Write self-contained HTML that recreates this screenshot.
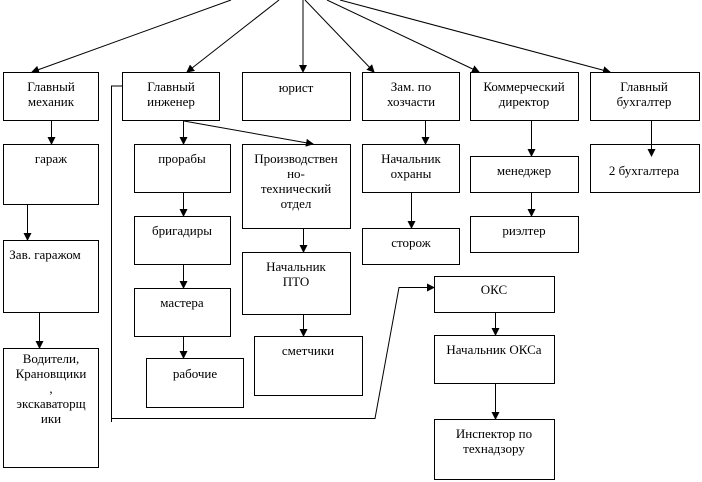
<!DOCTYPE html>
<html><head><meta charset="utf-8"><style>
html,body{margin:0;padding:0;background:#fff;}
svg{display:block;}
text{font-family:"Liberation Serif","DejaVu Serif",serif;font-size:13px;fill:#000;text-anchor:middle;}
rect{fill:#fff;stroke:#000;stroke-width:1;}
line,polyline{stroke:#000;stroke-width:1;fill:none;}
</style></head><body>
<svg width="702" height="482" viewBox="0 0 702 482" xmlns="http://www.w3.org/2000/svg">
<defs><marker id="a" markerWidth="8" markerHeight="8" refX="7" refY="4" orient="auto" markerUnits="userSpaceOnUse"><path d="M0,0 L8,4 L0,8 z" fill="#000"/></marker></defs>
<line x1="231" y1="0" x2="32" y2="72" marker-end="url(#a)"/>
<line x1="279" y1="0" x2="187" y2="72" marker-end="url(#a)"/>
<line x1="303" y1="0" x2="303" y2="72" marker-end="url(#a)"/>
<line x1="305" y1="0" x2="374" y2="72" marker-end="url(#a)"/>
<line x1="327" y1="0" x2="479" y2="72" marker-end="url(#a)"/>
<line x1="340" y1="0" x2="610" y2="72" marker-end="url(#a)"/>
<rect x="3.5" y="72.5" width="95" height="48"/>
<rect x="122.5" y="72.5" width="97" height="48"/>
<rect x="242.5" y="72.5" width="108" height="48"/>
<rect x="362.5" y="72.5" width="97" height="48"/>
<rect x="470.5" y="72.5" width="108" height="48"/>
<rect x="590.5" y="72.5" width="109" height="48"/>
<rect x="3.5" y="144.5" width="95" height="60"/>
<rect x="134.5" y="144.5" width="96" height="48"/>
<rect x="242.5" y="144.5" width="108" height="84"/>
<rect x="362.5" y="144.5" width="97" height="48"/>
<rect x="470.5" y="156.5" width="108" height="36"/>
<rect x="590.5" y="144.5" width="109" height="48"/>
<rect x="3.5" y="240.5" width="95" height="72"/>
<rect x="134.5" y="216.5" width="96" height="48"/>
<rect x="242.5" y="252.5" width="108" height="62"/>
<rect x="362.5" y="228.5" width="97" height="36"/>
<rect x="470.5" y="216.5" width="108" height="36"/>
<rect x="134.5" y="288.5" width="96" height="48"/>
<rect x="146.5" y="358.5" width="97" height="49"/>
<rect x="254.5" y="336.5" width="108" height="59"/>
<rect x="3.5" y="348.5" width="95" height="119"/>
<rect x="434.5" y="276.5" width="120" height="36"/>
<rect x="434.5" y="335.5" width="120" height="48"/>
<rect x="434.5" y="419.5" width="120" height="60"/>
<line x1="51.5" y1="121" x2="51.5" y2="144" marker-end="url(#a)"/>
<line x1="27.5" y1="205" x2="27.5" y2="240" marker-end="url(#a)"/>
<line x1="39.5" y1="313" x2="39.5" y2="348" marker-end="url(#a)"/>
<line x1="183.5" y1="121" x2="183.5" y2="144" marker-end="url(#a)"/>
<line x1="184" y1="121" x2="313" y2="144" marker-end="url(#a)"/>
<line x1="183.5" y1="193" x2="183.5" y2="216" marker-end="url(#a)"/>
<line x1="183.5" y1="265" x2="183.5" y2="288" marker-end="url(#a)"/>
<line x1="183.5" y1="337" x2="183.5" y2="358" marker-end="url(#a)"/>
<line x1="303.5" y1="229" x2="303.5" y2="252" marker-end="url(#a)"/>
<line x1="303.5" y1="315" x2="303.5" y2="336" marker-end="url(#a)"/>
<line x1="425.5" y1="121" x2="425.5" y2="144" marker-end="url(#a)"/>
<line x1="411.5" y1="193" x2="411.5" y2="228" marker-end="url(#a)"/>
<line x1="531.5" y1="121" x2="531.5" y2="156" marker-end="url(#a)"/>
<line x1="531.5" y1="193" x2="531.5" y2="216" marker-end="url(#a)"/>
<line x1="651.5" y1="121" x2="651.5" y2="156" marker-end="url(#a)"/>
<line x1="495.5" y1="313" x2="495.5" y2="335" marker-end="url(#a)"/>
<line x1="495.5" y1="384" x2="495.5" y2="419" marker-end="url(#a)"/>
<polyline points="123,86 111.5,86 111.5,418.5 375,418.5 399,287.5 434,287.5" marker-end="url(#a)"/>
<line x1="111.5" y1="412" x2="111.5" y2="422"/>
<text x="51" y="91">Главный</text><text x="51" y="106">механик</text>
<text x="171" y="91">Главный</text><text x="171" y="106">инженер</text>
<text x="296" y="92">юрист</text>
<text x="411" y="91">Зам. по</text><text x="411" y="106">хозчасти</text>
<text x="524" y="91">Коммерческий</text><text x="524" y="106">директор</text>
<text x="644" y="91">Главный</text><text x="644" y="106">бухгалтер</text>
<text x="51" y="163">гараж</text>
<text x="182" y="163">прорабы</text>
<text x="296" y="163">Производствен</text><text x="296" y="178">но-</text><text x="296" y="193">технический</text><text x="296" y="208">отдел</text>
<text x="411" y="163">Начальник</text><text x="411" y="178">охраны</text>
<text x="524" y="175">менеджер</text>
<text x="644" y="175">2 бухгалтера</text>
<text x="45" y="259">Зав. гаражом</text>
<text x="182" y="235">бригадиры</text>
<text x="296" y="271">Начальник</text><text x="296" y="286">ПТО</text>
<text x="411" y="247">сторож</text>
<text x="524" y="235">риэлтер</text>
<text x="182" y="307">мастера</text>
<text x="195" y="378">рабочие</text>
<text x="308" y="355">сметчики</text>
<text x="51" y="363">Водители,</text><text x="51" y="378">Крановщики</text><text x="51" y="393">,</text><text x="51" y="408">экскаваторщ</text><text x="51" y="423">ики</text>
<text x="494" y="294">ОКС</text>
<text x="494" y="354">Начальник ОКСа</text>
<text x="494" y="438">Инспектор по</text><text x="494" y="453">технадзору</text>
</svg>
</body></html>
